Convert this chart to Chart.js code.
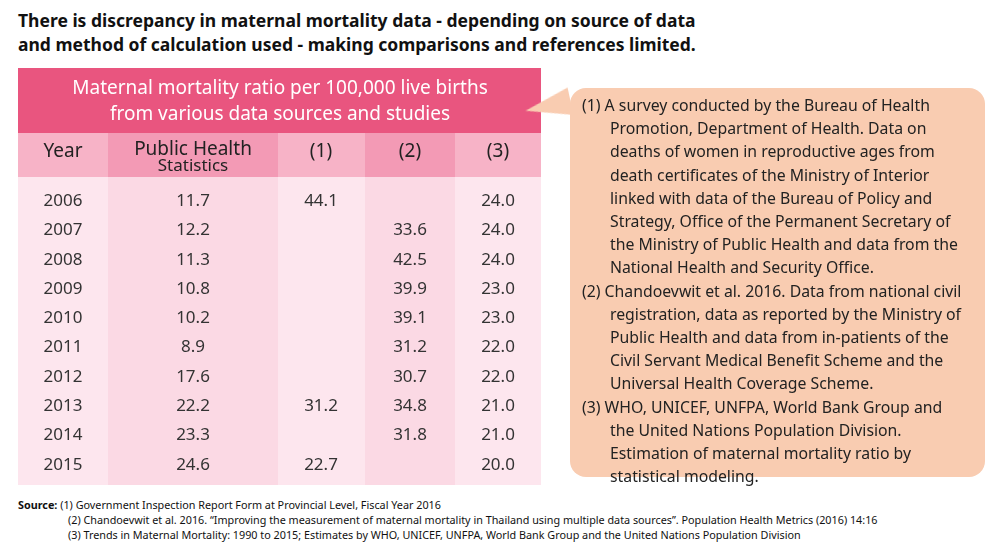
<!DOCTYPE html>
<html lang="en">
<head>
<meta charset="UTF-8">
<title>Maternal mortality</title>
<script src="https://cdn.jsdelivr.net/npm/chart.js"></script>
<style>
  body { margin:0; width:1000px; height:554px; background:#fff; font-family:"Noto Sans", sans-serif; position:relative; overflow:hidden; }
  #titulo { position:absolute; left:18px; top:8px; font-size:17.5px; font-weight:bold; line-height:24px; color:#111; }
  #tabela { position:absolute; left:18px; top:68px; }
  #caixa { position:absolute; left:570px; top:88px; width:415px; height:389px; background:#f9ccb1; border-radius:16px; }
  #seta { position:absolute; left:525px; top:92px; width:0; height:0; border-top:14px solid transparent; border-bottom:14px solid transparent; border-right:46px solid #f9ccb1; transform:rotate(-12deg); }
  #notas { position:absolute; left:582px; top:94px; width:385px; font-size:15.8px; line-height:23.2px; color:#222; }
  #notas p { margin:0; padding-left:28px; text-indent:-28px; }
  #fonte { position:absolute; left:18px; top:497px; font-size:10.8px; line-height:15px; color:#111; }
  #fonte div { padding-left:50px; }
</style>
</head>
<body>
<div id="titulo">There is discrepancy in maternal mortality data - depending on source of data<br>and method of calculation used - making comparisons and references limited.</div>
<canvas id="tabela" width="523" height="417"></canvas>
<div id="seta"></div>
<div id="caixa"></div>
<div id="notas">
  <p>(1) A survey conducted by the Bureau of Health Promotion, Department of Health. Data on deaths of women in reproductive ages from death certificates of the Ministry of Interior linked with data of the Bureau of Policy and Strategy, Office of the Permanent Secretary of the Ministry of Public Health and data from the National Health and Security Office.</p>
  <p>(2) Chandoevwit et al. 2016. Data from national civil registration, data as reported by the Ministry of Public Health and data from in-patients of the Civil Servant Medical Benefit Scheme and the Universal Health Coverage Scheme.</p>
  <p>(3) WHO, UNICEF, UNFPA, World Bank Group and the United Nations Population Division. Estimation of maternal mortality ratio by statistical modeling.</p>
</div>
<div id="fonte"><b>Source:</b> (1) Government Inspection Report Form at Provincial Level, Fiscal Year 2016
  <div>(2) Chandoevwit et al. 2016. “Improving the measurement of maternal mortality in Thailand using multiple data sources”. Population Health Metrics (2016) 14:16</div>
  <div>(3) Trends in Maternal Mortality: 1990 to 2015; Estimates by WHO, UNICEF, UNFPA, World Bank Group and the United Nations Population Division</div>
</div>
<script>
  // dados da tabela
  const anos = [2006, 2007, 2008, 2009, 2010, 2011, 2012, 2013, 2014, 2015];
  const saude = [11.7, 12.2, 11.3, 10.8, 10.2, 8.9, 17.6, 22.2, 23.3, 24.6];
  const fonte1 = [44.1, null, null, null, null, null, null, 31.2, null, 22.7];
  const fonte2 = [null, 33.6, 42.5, 39.9, 39.1, 31.2, 30.7, 34.8, 31.8, null];
  const fonte3 = [24.0, 24.0, 24.0, 23.0, 23.0, 22.0, 22.0, 21.0, 21.0, 20.0];

  const colunas = [0, 90, 260, 347, 437, 523]; // limites das colunas
  const colunasX = [45, 175, 303, 392, 480];     // posição do texto
  const linhaY = i => 133 + i * 29.33;

  const pontos = [];
  anos.forEach((a, i) => {
    [a, saude[i], fonte1[i], fonte2[i], fonte3[i]].forEach((v, c) => {
      if (v !== null) pontos.push({ x: colunasX[c], y: linhaY(i), txt: c == 0 ? String(v) : v.toFixed(1) });
    });
  });

  const desenhaTabela = {
    id: 'tabela',
    beforeDatasetsDraw(chart) {
      const ctx = chart.ctx, xs = chart.scales.x, ys = chart.scales.y;
      const px = v => xs.getPixelForValue(v), py = v => ys.getPixelForValue(v);
      const corpo = ['#fde6ee', '#fbd9e4', '#fde6ee', '#fbd9e4', '#fde6ee'];
      const cab = ['#f7b3c7', '#f39ab5', '#f7b3c7', '#f39ab5', '#f7b3c7'];
      for (let c = 0; c < 5; c++) {
        ctx.fillStyle = corpo[c];
        ctx.fillRect(px(colunas[c]), py(109), px(colunas[c + 1]) - px(colunas[c]), py(417) - py(109));
        ctx.fillStyle = cab[c];
        ctx.fillRect(px(colunas[c]), py(65), px(colunas[c + 1]) - px(colunas[c]), py(109) - py(65));
      }
      ctx.fillStyle = '#e9557f';
      ctx.fillRect(px(0), py(0), px(523) - px(0), py(65) - py(0));
      ctx.fillStyle = '#fff';
      ctx.textAlign = 'center'; ctx.textBaseline = 'middle';
      ctx.font = '19px "Noto Sans"';
      ctx.fillText('Maternal mortality ratio per 100,000 live births', px(262), py(21));
      ctx.fillText('from various data sources and studies', px(262), py(47));
      ctx.fillStyle = '#222';
      ctx.fillText('Year', px(45), py(84));
      ctx.fillText('(1)', px(303), py(84));
      ctx.fillText('(2)', px(392), py(84));
      ctx.fillText('(3)', px(480), py(84));
      ctx.fillText('Public Health', px(175), py(82));
      ctx.font = '17px "Noto Sans"';
      ctx.fillText('Statistics', px(175), py(98));
    },
    afterDatasetsDraw(chart) {
      const ctx = chart.ctx, xs = chart.scales.x, ys = chart.scales.y;
      ctx.fillStyle = '#333';
      ctx.textAlign = 'center'; ctx.textBaseline = 'middle';
      ctx.font = '17px "Noto Sans"';
      pontos.forEach(p => ctx.fillText(p.txt, xs.getPixelForValue(p.x), ys.getPixelForValue(p.y)));
    }
  };

  new Chart(document.getElementById('tabela'), {
    type: 'scatter',
    data: { datasets: [{ data: pontos, pointRadius: 0 }] },
    options: {
      responsive: false, animation: false,
      layout: { padding: 0 },
      plugins: { legend: { display: false }, tooltip: { enabled: false } },
      scales: {
        x: { type: 'linear', min: 0, max: 523, display: false },
        y: { type: 'linear', min: 0, max: 417, reverse: true, display: false }
      }
    },
    plugins: [desenhaTabela]
  });
</script>
</body>
</html>
